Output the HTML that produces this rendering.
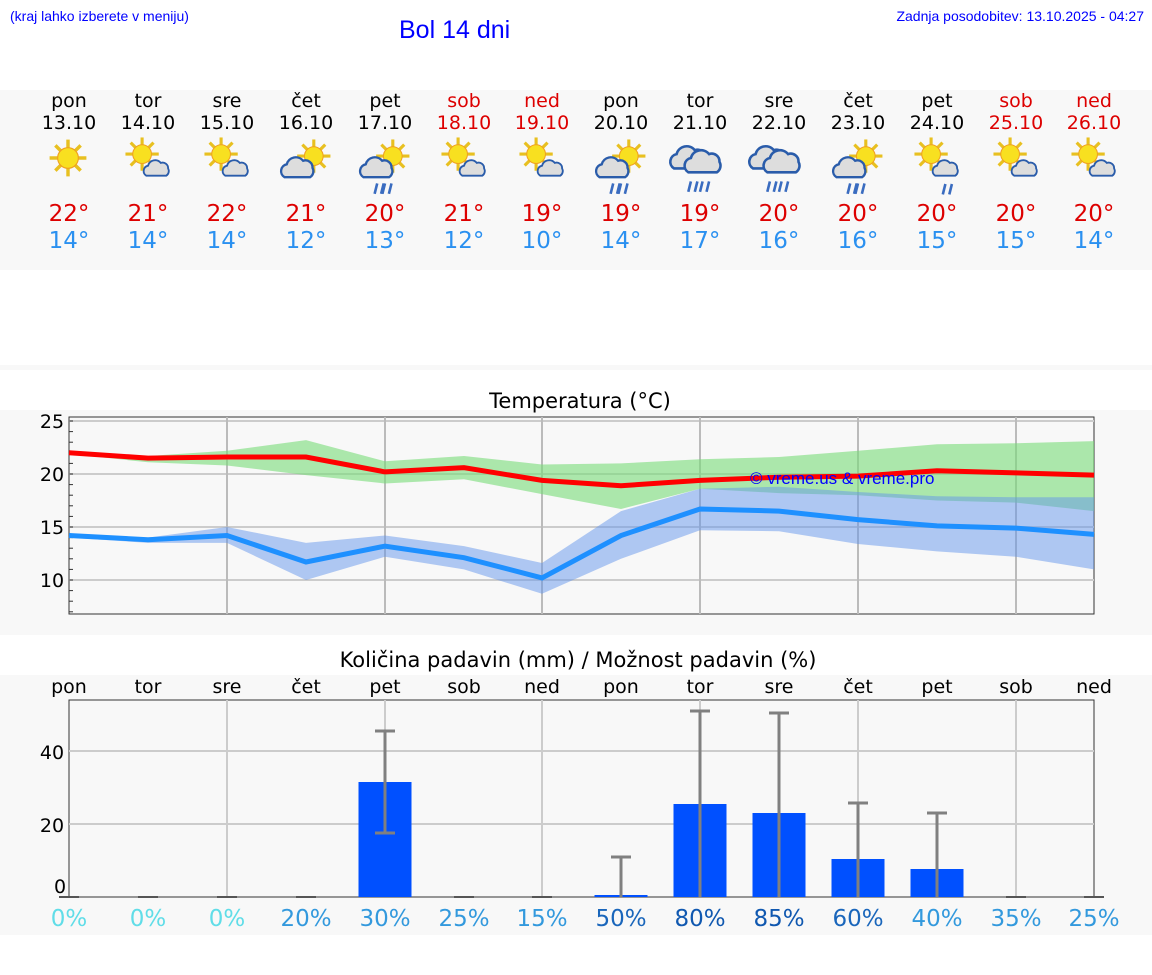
<!DOCTYPE html>
<html><head><meta charset="utf-8"><style>
body{margin:0;width:1152px;height:975px;background:#fff;position:relative;overflow:hidden;font-family:"DejaVu Sans","Liberation Sans",sans-serif}
.a{position:absolute}
</style></head><body>
<div class="a" style="left:0;top:90px;width:1152px;height:180px;background:#f8f8f8"></div>
<div class="a" style="left:0;top:365px;width:1152px;height:5px;background:#f8f8f8"></div>
<div class="a" style="left:0;top:410px;width:1152px;height:225px;background:#f8f8f8"></div>
<div class="a" style="left:0;top:675px;width:1152px;height:260px;background:#f8f8f8"></div>
<div class="a" style="left:10px;top:8px;font-size:14px;color:#00f;font-family:'Liberation Sans',sans-serif">(kraj lahko izberete v meniju)</div>
<div class="a" style="left:399px;top:16px;font-size:25px;color:#00f;font-family:'Liberation Sans',sans-serif">Bol 14 dni</div>
<div class="a" style="right:8px;top:8px;font-size:14px;color:#00f;font-family:'Liberation Sans',sans-serif">Zadnja posodobitev: 13.10.2025 - 04:27</div>
<svg class="a" style="left:0;top:0" width="1152" height="975" font-family="DejaVu Sans, sans-serif">
<defs>
<g id="sun"><g stroke="#e8c020" stroke-width="3"><line x1="0" y1="-16" x2="0" y2="16"/><line x1="-16" y1="0" x2="16" y2="0"/><line x1="-11" y1="-11" x2="11" y2="11"/><line x1="-11" y1="11" x2="11" y2="-11"/></g><circle r="9" fill="#f8e020" stroke="#f0a020"/></g>
<g id="cl"><path d="M-14,8 a6,6 0 0 1 2,-11 a8,8 0 0 1 14,-3 a6,6 0 0 1 8,6 a6,6 0 0 1 -2,8 z" fill="#ddd" stroke="#2a5caa" stroke-width="2"/></g>
<g id="sc"><use href="#sun" transform="translate(-3,-3) scale(.8)"/><use href="#cl" transform="translate(10,8) scale(.7)"/></g>
<g id="cs"><use href="#sun" transform="translate(6,-3) scale(.8)"/><use href="#cl" transform="translate(-4,6) scale(.9)"/></g>
<g id="rain" stroke="#3a6cc0" stroke-width="2"><line x1="-4" y1="0" x2="-6" y2="8"/><line x1="1" y1="0" x2="-1" y2="8"/></g>
<g id="csr"><use href="#cs"/><use href="#rain" transform="translate(-2,18)"/><use href="#rain" transform="translate(4,18)"/></g>
<g id="cr"><use href="#cl" transform="translate(-6,0)"/><use href="#cl" transform="translate(5,3)"/><use href="#rain" transform="translate(-3,18)"/><use href="#rain" transform="translate(6,18)"/></g>
<g id="scr"><use href="#sc"/><use href="#rain" transform="translate(12,20)"/></g>
</defs>
<g font-size="19" text-anchor="middle">
<text x="69" y="107">pon</text><text x="148" y="107">tor</text><text x="227" y="107">sre</text><text x="306" y="107">čet</text><text x="385" y="107">pet</text><text x="464" y="107" fill="#d00">sob</text><text x="542" y="107" fill="#d00">ned</text><text x="621" y="107">pon</text><text x="700" y="107">tor</text><text x="779" y="107">sre</text><text x="858" y="107">čet</text><text x="937" y="107">pet</text><text x="1016" y="107" fill="#d00">sob</text><text x="1094" y="107" fill="#d00">ned</text>
<text x="69" y="129">13.10</text><text x="148" y="129">14.10</text><text x="227" y="129">15.10</text><text x="306" y="129">16.10</text><text x="385" y="129">17.10</text><text x="464" y="129" fill="#d00">18.10</text><text x="542" y="129" fill="#d00">19.10</text><text x="621" y="129">20.10</text><text x="700" y="129">21.10</text><text x="779" y="129">22.10</text><text x="858" y="129">23.10</text><text x="937" y="129">24.10</text><text x="1016" y="129" fill="#d00">25.10</text><text x="1094" y="129" fill="#d00">26.10</text>
<g font-size="23" fill="#d00">
<text x="69" y="221">22°</text><text x="148" y="221">21°</text><text x="227" y="221">22°</text><text x="306" y="221">21°</text><text x="385" y="221">20°</text><text x="464" y="221">21°</text><text x="542" y="221">19°</text><text x="621" y="221">19°</text><text x="700" y="221">19°</text><text x="779" y="221">20°</text><text x="858" y="221">20°</text><text x="937" y="221">20°</text><text x="1016" y="221">20°</text><text x="1094" y="221">20°</text>
</g>
<g font-size="23" fill="#2a90f0">
<text x="69" y="248">14°</text><text x="148" y="248">14°</text><text x="227" y="248">14°</text><text x="306" y="248">12°</text><text x="385" y="248">13°</text><text x="464" y="248">12°</text><text x="542" y="248">10°</text><text x="621" y="248">14°</text><text x="700" y="248">17°</text><text x="779" y="248">16°</text><text x="858" y="248">16°</text><text x="937" y="248">15°</text><text x="1016" y="248">15°</text><text x="1094" y="248">14°</text>
</g>
</g>
<use href="#sun" transform="translate(68,158) scale(1.15)"/>
<use href="#sc" transform="translate(146,158) scale(1.3)"/>
<use href="#sc" transform="translate(225,158) scale(1.3)"/>
<use href="#cs" transform="translate(306,160) scale(1.3)"/>
<use href="#csr" transform="translate(385,160) scale(1.3)"/>
<use href="#sc" transform="translate(462,158) scale(1.3)"/>
<use href="#sc" transform="translate(540,158) scale(1.3)"/>
<use href="#csr" transform="translate(621,160) scale(1.3)"/>
<use href="#cr" transform="translate(700,158) scale(1.3)"/>
<use href="#cr" transform="translate(779,158) scale(1.3)"/>
<use href="#csr" transform="translate(858,160) scale(1.3)"/>
<use href="#scr" transform="translate(935,158) scale(1.3)"/>
<use href="#sc" transform="translate(1014,158) scale(1.3)"/>
<use href="#sc" transform="translate(1092,158) scale(1.3)"/>

<!-- temperature -->
<text x="580" y="408" font-size="21" text-anchor="middle">Temperatura (°C)</text>
<rect x="69" y="417" width="1025" height="197" fill="#f8f8f8" stroke="#333"/>
<g stroke="#ccc" stroke-width="2"><line x1="69" x2="1094" y1="421" y2="421"/><line x1="69" x2="1094" y1="474" y2="474"/><line x1="69" x2="1094" y1="527" y2="527"/><line x1="69" x2="1094" y1="580" y2="580"/></g>
<g font-size="19" text-anchor="middle"><text x="52" y="428">25</text><text x="52" y="481">20</text><text x="52" y="534">15</text><text x="52" y="587">10</text></g>
<g stroke="#333"><line x1="69" x2="73" y1="611.8" y2="611.8"/><line x1="69" x2="73" y1="601.2" y2="601.2"/><line x1="69" x2="73" y1="590.6" y2="590.6"/><line x1="69" x2="73" y1="580" y2="580"/><line x1="69" x2="73" y1="569.4" y2="569.4"/><line x1="69" x2="73" y1="558.8" y2="558.8"/><line x1="69" x2="73" y1="548.2" y2="548.2"/><line x1="69" x2="73" y1="537.6" y2="537.6"/><line x1="69" x2="73" y1="527" y2="527"/><line x1="69" x2="73" y1="516.4" y2="516.4"/><line x1="69" x2="73" y1="505.8" y2="505.8"/><line x1="69" x2="73" y1="495.2" y2="495.2"/><line x1="69" x2="73" y1="484.6" y2="484.6"/><line x1="69" x2="73" y1="474" y2="474"/><line x1="69" x2="73" y1="463.4" y2="463.4"/><line x1="69" x2="73" y1="452.8" y2="452.8"/><line x1="69" x2="73" y1="442.2" y2="442.2"/><line x1="69" x2="73" y1="431.6" y2="431.6"/><line x1="69" x2="73" y1="421" y2="421"/></g>
<g stroke="#bbb" stroke-width="2"><line x1="227" x2="227" y1="417" y2="614"/><line x1="385" x2="385" y1="417" y2="614"/><line x1="542" x2="542" y1="417" y2="614"/><line x1="700" x2="700" y1="417" y2="614"/><line x1="858" x2="858" y1="417" y2="614"/><line x1="1016" x2="1016" y1="417" y2="614"/></g>
<path d="M69,451.7 L148,456 L227,450.7 L306,440.1 L385,461.3 L464,456 L542,464.5 L621,463.4 L700,459.2 L779,457 L858,450.7 L937,444.3 L1016,443.3 L1094,441.1 L1094,511.1 L1016,502.6 L937,500.5 L858,495.2 L779,493.1 L700,488.8 L621,509 L542,494.1 L464,479.3 L385,483.5 L306,475.1 L227,465.5 L148,462.3 L69,453.9 Z" fill="rgba(120,220,120,.6)"/>
<path d="M69,533.4 L148,537.6 L227,527 L306,542.9 L385,535.5 L464,546.1 L542,563 L621,511.1 L700,488.8 L779,486.7 L858,492 L937,496.3 L1016,497.3 L1094,497.3 L1094,569.4 L1016,556.7 L937,551.4 L858,544 L779,531.2 L700,530.2 L621,558.8 L542,593.8 L464,569.4 L385,556.7 L306,580 L227,542.9 L148,542.9 L69,537.6 Z" fill="rgba(100,150,235,.5)"/>
<path d="M69,452.8 L148,458.1 L227,457 L306,457 L385,471.9 L464,467.6 L542,480.4 L621,485.7 L700,480.4 L779,477.2 L858,476.1 L937,470.8 L1016,472.9 L1094,475.1" fill="none" stroke="#f00" stroke-width="5"/>
<path d="M69,535.5 L148,539.7 L227,535.5 L306,562 L385,546.1 L464,557.7 L542,577.9 L621,535.5 L700,509 L779,511.1 L858,519.6 L937,525.9 L1016,528.1 L1094,534.4" fill="none" stroke="#1e90ff" stroke-width="5"/>
<text x="750" y="484" fill="#00f" font-size="17" font-family="Liberation Sans, sans-serif">© vreme.us &amp; vreme.pro</text>

<!-- precipitation -->
<text x="578" y="667" font-size="21" text-anchor="middle">Količina padavin (mm) / Možnost padavin (%)</text>
<rect x="69" y="700" width="1025" height="197" fill="#f8f8f8" stroke="#333"/>
<g stroke="#ccc" stroke-width="2"><line x1="69" x2="1094" y1="751" y2="751"/><line x1="69" x2="1094" y1="824" y2="824"/><line x1="227" x2="227" y1="700" y2="897"/><line x1="385" x2="385" y1="700" y2="897"/><line x1="542" x2="542" y1="700" y2="897"/><line x1="700" x2="700" y1="700" y2="897"/><line x1="858" x2="858" y1="700" y2="897"/><line x1="1016" x2="1016" y1="700" y2="897"/></g>
<g font-size="19" text-anchor="middle"><text x="52" y="759">40</text><text x="52" y="832">20</text><text x="60" y="893">0</text>
<text x="69" y="693">pon</text><text x="148" y="693">tor</text><text x="227" y="693">sre</text><text x="306" y="693">čet</text><text x="385" y="693">pet</text><text x="464" y="693">sob</text><text x="542" y="693">ned</text><text x="621" y="693">pon</text><text x="700" y="693">tor</text><text x="779" y="693">sre</text><text x="858" y="693">čet</text><text x="937" y="693">pet</text><text x="1016" y="693">sob</text><text x="1094" y="693">ned</text></g>
<g fill="#0050ff"><rect x="358.5" y="782" width="53" height="115"/><rect x="594.5" y="895" width="53" height="2"/><rect x="673.5" y="804" width="53" height="93"/><rect x="752.5" y="813" width="53" height="84"/><rect x="831.5" y="859" width="53" height="38"/><rect x="910.5" y="869" width="53" height="28"/></g>
<g stroke="#808080" stroke-width="3">
<line x1="385" x2="385" y1="833" y2="731"/><line x1="375" x2="395" y1="731" y2="731"/><line x1="375" x2="395" y1="833" y2="833"/>
<line x1="621" x2="621" y1="897" y2="857"/><line x1="611" x2="631" y1="857" y2="857"/>
<line x1="700" x2="700" y1="897" y2="711"/><line x1="690" x2="710" y1="711" y2="711"/>
<line x1="779" x2="779" y1="897" y2="713"/><line x1="769" x2="789" y1="713" y2="713"/>
<line x1="858" x2="858" y1="897" y2="803"/><line x1="848" x2="868" y1="803" y2="803"/>
<line x1="937" x2="937" y1="897" y2="813"/><line x1="927" x2="947" y1="813" y2="813"/>
</g>
<g stroke="#555" stroke-width="2"><line x1="59" x2="79" y1="897" y2="897"/><line x1="138" x2="158" y1="897" y2="897"/><line x1="217" x2="237" y1="897" y2="897"/><line x1="296" x2="316" y1="897" y2="897"/><line x1="454" x2="474" y1="897" y2="897"/><line x1="532" x2="552" y1="897" y2="897"/><line x1="1006" x2="1026" y1="897" y2="897"/><line x1="1084" x2="1104" y1="897" y2="897"/></g>
<g font-size="23" text-anchor="middle">
<text x="69" y="926" fill="#60dde8">0%</text><text x="148" y="926" fill="#60dde8">0%</text><text x="227" y="926" fill="#60dde8">0%</text><text x="306" y="926" fill="#3399dd">20%</text><text x="385" y="926" fill="#3399dd">30%</text><text x="464" y="926" fill="#3399dd">25%</text><text x="542" y="926" fill="#3399dd">15%</text><text x="621" y="926" fill="#1a66bb">50%</text><text x="700" y="926" fill="#1058b0">80%</text><text x="779" y="926" fill="#1058b0">85%</text><text x="858" y="926" fill="#1a66bb">60%</text><text x="937" y="926" fill="#3399dd">40%</text><text x="1016" y="926" fill="#3399dd">35%</text><text x="1094" y="926" fill="#3399dd">25%</text>
</g>
</svg>
</body></html>
